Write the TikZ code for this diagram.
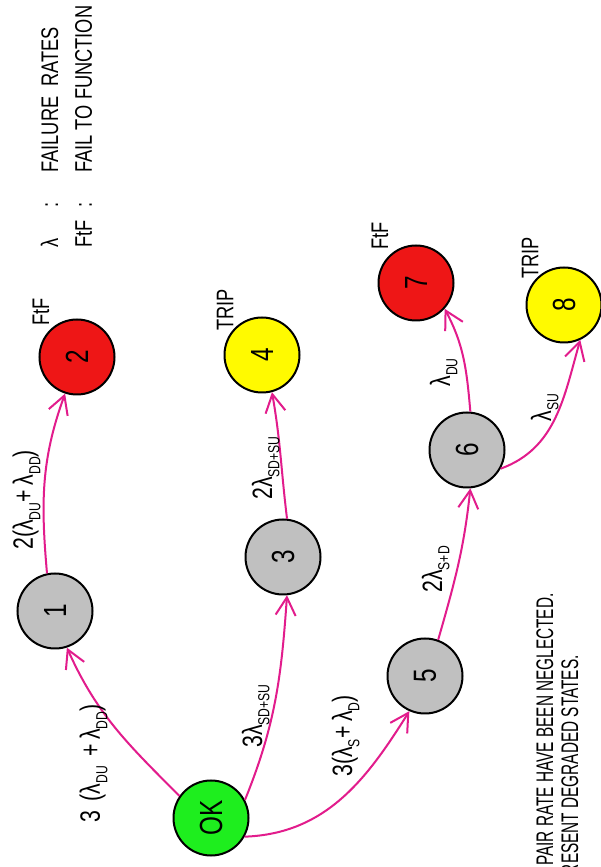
\documentclass[tikz,border=0pt]{standalone}
\usepackage{fontspec}
\usepackage{graphicx}
\setmainfont[FakeStretch=0.76]{Liberation Sans}
\newfontfamily\notefont[FakeStretch=0.64]{Liberation Sans}
\usetikzlibrary{arrows.meta}
\definecolor{edgecol}{RGB}{226,28,140}
\definecolor{stgray}{RGB}{192,192,192}
\definecolor{stgreen}{RGB}{30,238,30}
\definecolor{stred}{RGB}{238,22,22}
\definecolor{styellow}{RGB}{255,250,0}
\newcommand\sbs[1]{\raisebox{-0.5ex}{\fontsize{8}{8}\selectfont #1}}
\newcommand\rt[1]{\rotatebox{90}{#1}}
\begin{document}
\begin{tikzpicture}[x=0.5pt,y=0.5pt,
  state/.style={circle,draw=black,line width=1pt,minimum size=37.5pt,inner sep=0pt,font=\fontsize{16}{16}\selectfont},
  gst/.style={state,fill=stgray},
  okst/.style={state,fill=stgreen},
  rst/.style={state,fill=stred},
  yst/.style={state,fill=styellow},
  txt/.style={rotate=90,inner sep=0pt,font=\fontsize{12}{12}\selectfont},
  elbl/.style={rotate=90,inner sep=0pt,anchor=base west,font=\fontsize{14}{14}\selectfont},
  trans/.style={draw=edgecol,line width=1pt,-{Straight Barb[length=9pt,width=10pt]}}
]
\fill[white] (0,0) rectangle (600,867);
\useasboundingbox (0,0) rectangle (600,867);

% states
\node[okst] (ok) at (211,49) {\rt{OK}};
\node[gst] (n1) at (55,256) {\rt{1}};
\node[rst] (n2) at (77,510) {\rt{2}};
\node[gst] (n3) at (283,310) {\rt{3}};
\node[yst] (n4) at (262,512) {\rt{4}};
\node[gst] (n5) at (425,191) {\rt{5}};
\node[gst] (n6) at (467,417) {\rt{6}};
\node[rst] (n7) at (416,584) {\rt{7}};
\node[yst] (n8) at (564,562) {\rt{8}};

% state tags
\node[txt] (t2) at (41,555) {FtF};
\node[txt] (t4) at (225,557) {TRIP};
\node[txt] (t7) at (380,631) {FtF};
\node[txt] (t8) at (530,609) {TRIP};

% transitions
\draw[trans] (ok.145) to[out=135,in=-66] (n1.-72);
\draw[trans] (ok.28) to[out=68,in=-94] (n3.-84);
\draw[trans] (ok.-29) to[out=2,in=238] (n5.-114);
\draw[trans] (n1.102) to[out=95,in=250] (n2.-108);
\draw[trans] (n3.84) to[out=97,in=-80] (n4.-75);
\draw[trans] (n5.70) to[out=74,in=-96] (n6.-85);
\draw[trans] (n6.85) to[out=95,in=-62] (n7.-42);
\draw[trans] (n6.-29) to[out=20,in=-106] (n8.-65);

% transition labels
\node[elbl] (l1) at (100,44) {3\,\,(λ\sbs{DU}\,\,+\,λ\sbs{DD})};
\node[elbl] (l2) at (262,119) {3λ\sbs{SD+SU}};
\node[elbl] (l3) at (33,317) {2(λ\sbs{DU}+\,λ\sbs{DD})};
\node[elbl] (l4) at (272,367) {2λ\sbs{SD+SU}};
\node[elbl] (l5) at (352,90) {3(λ\sbs{S}+\,λ\sbs{D})};
\node[elbl] (l6) at (442,274) {2λ\sbs{S+D}};
\node[elbl] (l7) at (450,480) {λ\sbs{DU}};
\node[elbl] (l8) at (551,445) {λ\sbs{SU}};

% legend
\node[txt,anchor=base west] (g1a) at (58,619) {λ};
\node[txt,anchor=base west] (g1b) at (58,659) {:};
\node[txt,anchor=base west] (g1c) at (58,694) {FAILURE\ \ RATES};
\node[txt,anchor=base west] (g2a) at (92,619) {FtF};
\node[txt,anchor=base west] (g2b) at (92,659) {:};
\node[txt,anchor=base west] (g2c) at (92,694) {FAIL TO FUNCTION};

% note
\node[txt,anchor=base east,font=\notefont\fontsize{12}{12}\selectfont] (nt1) at (553,274) {PAIR RATE HAVE BEEN NEGLECTED.};
\node[txt,anchor=base east,font=\notefont\fontsize{12}{12}\selectfont] (nt2) at (578,212) {RESENT DEGRADED STATES.};
\end{tikzpicture}
\end{document}
